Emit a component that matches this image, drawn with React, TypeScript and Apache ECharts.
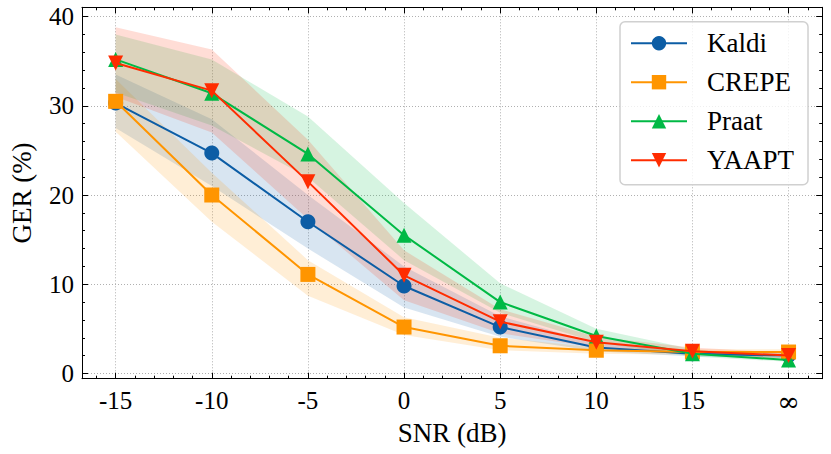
import React, { useEffect, useRef } from "react";
import * as echarts from "echarts";

// ---- data ----
const snrPositions = [-15, -10, -5, 0, 5, 10, 15, 20];
const snrTickLabels = ["-15", "-10", "-5", "0", "5", "10", "15", "∞"];
const xMinorTicks = [-16, -14, -13, -12, -11, -9, -8, -7, -6, -4, -3, -2, -1, 1, 2, 3, 4, 6, 7, 8, 9, 11, 12, 13, 14, 16, 17, 18, 19, 21];
const gerTicks = [0, 10, 20, 30, 40];
const yMinorTicks = [2, 4, 6, 8, 12, 14, 16, 18, 22, 24, 26, 28, 32, 34, 36, 38];

const kaldiMean = [30.3, 24.7, 17.0, 9.8, 5.2, 2.9, 2.2, 2.0];
const kaldiLower = [27.5, 21.0, 14.0, 7.4, 4.1, 2.5, 1.9, 1.7];
const kaldiUpper = [33.5, 28.5, 20.0, 12.0, 6.4, 3.4, 2.5, 2.3];

const crepeMean = [30.5, 20.0, 11.1, 5.2, 3.1, 2.6, 2.4, 2.4];
const crepeLower = [27.1, 17.0, 8.7, 4.3, 2.6, 2.2, 2.1, 2.1];
const crepeUpper = [33.0, 22.5, 12.7, 6.3, 4.0, 2.9, 2.7, 2.7];

const praatMean = [35.2, 31.4, 24.6, 15.5, 8.0, 4.2, 2.2, 1.5];
const praatLower = [31.5, 27.8, 22.0, 12.7, 6.8, 3.5, 1.9, 1.3];
const praatUpper = [38.0, 35.2, 28.8, 19.1, 10.1, 5.0, 2.7, 1.8];

const yaaptMean = [34.8, 31.7, 21.5, 11.0, 5.8, 3.5, 2.5, 2.0];
const yaaptLower = [31.0, 27.0, 17.3, 8.2, 4.5, 2.9, 2.1, 1.7];
const yaaptUpper = [38.8, 36.3, 26.2, 13.8, 7.2, 4.1, 2.9, 2.3];

const methodNames = ["Kaldi", "CREPE", "Praat", "YAAPT"];

const FONT = "'Liberation Serif', 'DejaVu Serif', serif";

export default function App() {
  const ref = useRef<HTMLDivElement>(null);

  useEffect(() => {
    if (!ref.current) return;
    const chart = echarts.init(ref.current, null, { renderer: "svg" });

    const defs = [
      { name: methodNames[0], color: "#0C5DA5", symbol: "circle", rotate: 0, mean: kaldiMean, lower: kaldiLower, upper: kaldiUpper },
      { name: methodNames[1], color: "#FF9500", symbol: "rect", rotate: 0, mean: crepeMean, lower: crepeLower, upper: crepeUpper },
      { name: methodNames[2], color: "#00B945", symbol: "triangle", rotate: 0, mean: praatMean, lower: praatLower, upper: praatUpper },
      { name: methodNames[3], color: "#FF2C00", symbol: "triangle", rotate: 180, mean: yaaptMean, lower: yaaptLower, upper: yaaptUpper },
    ];

    const pts = (vals: number[]) => snrPositions.map((x, i) => [x, vals[i]]);

    const bandSeries: any[] = defs.map((d) => ({
      type: "custom",
      name: d.name + " band",
      silent: true,
      z: 1,
      data: snrPositions.map((x, i) => [x, d.lower[i], d.upper[i]]),
      encode: { x: 0, y: [1, 2] },
      renderItem: (params: any, api: any) => {
        if (params.dataIndex !== 0) return null;
        const upperPts = snrPositions.map((x, i) => api.coord([x, d.upper[i]]));
        const lowerPts = snrPositions.map((x, i) => api.coord([x, d.lower[i]])).reverse();
        return {
          type: "polygon",
          shape: { points: [...upperPts, ...lowerPts] },
          style: { fill: d.color, opacity: 0.16 },
        };
      },
    }));

    const lineSeries = defs.map((d, i) => ({
      type: "line",
      name: d.name,
      data: pts(d.mean),
      symbol: d.symbol,
      symbolSize: 15,
      symbolRotate: d.rotate,
      showAllSymbol: true,
      lineStyle: { color: d.color, width: 2 },
      itemStyle: { color: d.color },
      z: 3 + i,
    }));

    const xMin = -16.75;
    const xMax = 21.75;
    const yMin = -0.59;
    const yMax = 41.04;
    const black = "#000";

    const axisCommon = (extra: any) => ({
      type: "value",
      gridIndex: 0,
      axisLabel: { show: false },
      splitLine: { show: false },
      axisLine: { show: false, onZero: false },
      ...extra,
    });

    const option: any = {
      animation: false,
      textStyle: { fontFamily: FONT, color: black },
      grid: { left: 77.5, right: 8.8, top: 7.3, bottom: 75.3, containLabel: false },
      legend: {
        data: methodNames,
        orient: "vertical",
        left: 620,
        top: 21.7,
        itemWidth: 56,
        itemHeight: 18,
        itemGap: 12,
        padding: [8, 14, 11, 10],
        backgroundColor: "rgba(255,255,255,0.8)",
        borderColor: "#d0d0d0",
        borderWidth: 1.5,
        borderRadius: 5,
        textStyle: { fontFamily: FONT, fontSize: 27, color: black, lineHeight: 27, padding: [0, 0, 0, 15] },
      },
      xAxis: [
        axisCommon({
          min: xMin,
          max: xMax,
          position: "bottom",
          name: "SNR (dB)",
          nameLocation: "middle",
          nameGap: 40,
          nameTextStyle: { fontFamily: FONT, fontSize: 27, color: black },
          axisLine: { show: true, onZero: false, lineStyle: { color: black, width: 1 } },
          axisTick: { show: true, inside: true, length: 6, customValues: snrPositions, lineStyle: { color: black, width: 1 } },
          axisLabel: {
            show: true,
            customValues: snrPositions,
            margin: 9,
            fontFamily: FONT,
            fontSize: 25,
            color: black,
            formatter: (v: number) => {
              const idx = snrPositions.indexOf(v);
              const t = idx >= 0 ? snrTickLabels[idx] : String(v);
              return t === "∞" ? "{inf|∞}" : t;
            },
            rich: { inf: { fontFamily: "'DejaVu Serif', serif", fontSize: 27, color: black } },
          },
          splitLine: { show: true, lineStyle: { type: [1, 2], color: "#b0b0b0", width: 1 } },
        }),
        axisCommon({
          min: xMin,
          max: xMax,
          position: "bottom",
          axisTick: { show: true, inside: true, length: 3, customValues: xMinorTicks, lineStyle: { color: black, width: 1 } },
        }),
        axisCommon({
          min: xMin,
          max: xMax,
          position: "top",
          axisLine: { show: true, onZero: false, lineStyle: { color: black, width: 1 } },
          axisTick: { show: true, inside: true, length: 6, customValues: snrPositions, lineStyle: { color: black, width: 1 } },
        }),
        axisCommon({
          min: xMin,
          max: xMax,
          position: "top",
          axisTick: { show: true, inside: true, length: 3, customValues: xMinorTicks, lineStyle: { color: black, width: 1 } },
        }),
      ],
      yAxis: [
        axisCommon({
          min: yMin,
          max: yMax,
          position: "left",
          name: "GER (%)",
          nameLocation: "middle",
          nameGap: 47,
          nameTextStyle: { fontFamily: FONT, fontSize: 27, color: black },
          axisLine: { show: true, onZero: false, lineStyle: { color: black, width: 1 } },
          axisTick: { show: true, inside: true, length: 6, customValues: gerTicks, lineStyle: { color: black, width: 1 } },
          axisLabel: { show: true, customValues: gerTicks, margin: 8, fontFamily: FONT, fontSize: 25, color: black },
          splitLine: { show: true, lineStyle: { type: [1, 2], color: "#b0b0b0", width: 1 } },
        }),
        axisCommon({
          min: yMin,
          max: yMax,
          position: "left",
          axisTick: { show: true, inside: true, length: 3, customValues: yMinorTicks, lineStyle: { color: black, width: 1 } },
        }),
        axisCommon({
          min: yMin,
          max: yMax,
          position: "right",
          axisLine: { show: true, onZero: false, lineStyle: { color: black, width: 1 } },
          axisTick: { show: true, inside: true, length: 6, customValues: gerTicks, lineStyle: { color: black, width: 1 } },
        }),
        axisCommon({
          min: yMin,
          max: yMax,
          position: "right",
          axisTick: { show: true, inside: true, length: 3, customValues: yMinorTicks, lineStyle: { color: black, width: 1 } },
        }),
      ],
      series: [...bandSeries, ...lineSeries],
    };

    chart.setOption(option);
    return () => {
      chart.dispose();
    };
  }, []);

  return (
    <div
      ref={ref}
      style={{ position: "fixed", left: 0, top: 0, width: 831, height: 454, background: "#fff" }}
    />
  );
}
